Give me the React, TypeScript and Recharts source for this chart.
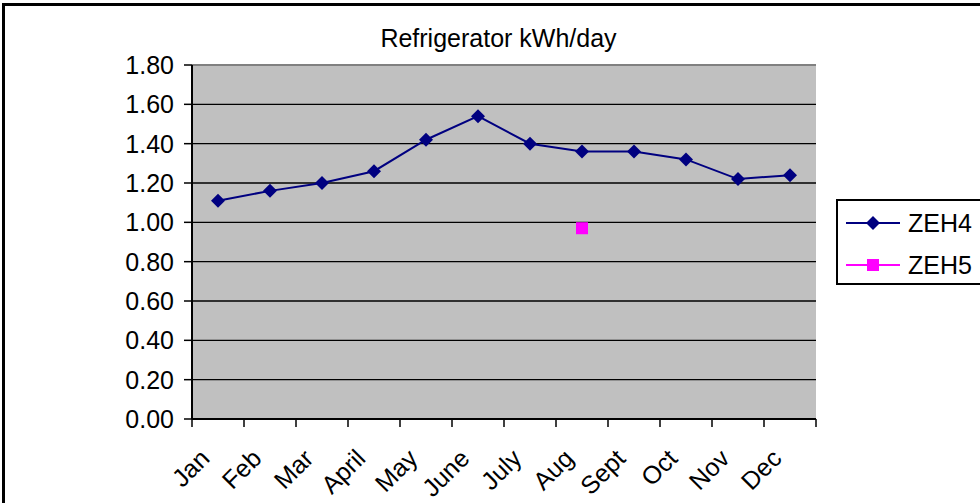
import { LineChart, Line, XAxis, YAxis, CartesianGrid, ReferenceLine } from "recharts"

const months = ["Jan", "Feb", "Mar", "April", "May", "June", "July", "Aug", "Sept", "Oct", "Nov", "Dec"]
const zeh4 = [1.11, 1.16, 1.2, 1.26, 1.42, 1.54, 1.4, 1.36, 1.36, 1.32, 1.22, 1.24]
const zeh5 = [null, null, null, null, null, null, null, 0.97, null, null, null, null]
const yTicks = [0, 0.2, 0.4, 0.6, 0.8, 1.0, 1.2, 1.4, 1.6, 1.8]

const data = months.map((m, i) => ({ month: m, zeh4: zeh4[i], zeh5: zeh5[i] }))

const FONT = "'Liberation Sans', Arial, sans-serif"
const FS = 25
const HALF = 26

const Diamond = (props: any) => {
  const { cx, cy } = props
  if (cx == null || cy == null) return null
  const s = 7
  return <polygon points={`${cx},${cy - s} ${cx + s},${cy} ${cx},${cy + s} ${cx - s},${cy}`} fill="#000080" />
}

const Square = (props: any) => {
  const { cx, cy, value } = props
  if (cx == null || cy == null || value == null) return null
  return <rect x={cx - 6} y={cy - 6} width={12} height={12} fill="#FF00FF" />
}

const MonthTick = (props: any) => {
  const { x, y, payload } = props
  const idx = payload.index ?? props.index
  const tx = x - 7
  const ty = y + 41
  return (
    <g>
      <line x1={x - HALF} y1={y} x2={x - HALF} y2={y + 8} stroke="#000" strokeWidth={1.5} />
      {idx === months.length - 1 && (
        <line x1={x + HALF} y1={y} x2={x + HALF} y2={y + 8} stroke="#000" strokeWidth={1.5} />
      )}
      <text
        x={tx}
        y={ty}
        textAnchor="end"
        fontFamily={FONT}
        fontSize={FS}
        fill="#000"
        transform={`rotate(-45, ${tx}, ${ty})`}
      >
        {payload.value}
      </text>
    </g>
  )
}

const LegendBox = () => (
  <div
    style={{
      position: "absolute",
      left: 836,
      top: 199,
      border: "2px solid #000",
      width: 160,
      height: 82,
      background: "#fff",
      fontFamily: FONT,
      fontSize: FS
    }}
  >
    {[
      { name: "ZEH4", color: "#000080", y: 22, shape: "d" },
      { name: "ZEH5", color: "#FF00FF", y: 64, shape: "s" }
    ].map((it) => (
      <div key={it.name} style={{ position: "absolute", left: 0, top: it.y - 14, height: 28, width: 160 }}>
        <svg width={68} height={28} style={{ position: "absolute", left: 0, top: 0 }}>
          <line x1={8} y1={14} x2={62} y2={14} stroke={it.color} strokeWidth={2} />
          {it.shape === "d" ? (
            <polygon points="35,7 42,14 35,21 28,14" fill={it.color} />
          ) : (
            <rect x={29} y={8} width={12} height={12} fill={it.color} />
          )}
        </svg>
        <span style={{ position: "absolute", left: 70, top: 0, lineHeight: "28px", color: "#000" }}>{it.name}</span>
      </div>
    ))}
  </div>
)

export default function App() {
  return (
    <div style={{ position: "fixed", left: 0, top: 0, width: 980, height: 503, overflow: "hidden", background: "#fff" }}>
      <div style={{ position: "absolute", left: 2, top: 3, width: 1020, height: 540, border: "3px solid #000" }} />
      <div
        style={{
          position: "absolute",
          left: 0,
          top: 26,
          width: 997,
          textAlign: "center",
          fontFamily: FONT,
          fontSize: FS,
          lineHeight: "25px",
          color: "#000"
        }}
      >
        Refrigerator kWh/day
      </div>
      <div style={{ position: "absolute", left: 0, top: 0 }}>
        <LineChart width={980} height={503} data={data} margin={{ top: 65, right: 164, left: 0, bottom: 0 }}>
          <CartesianGrid vertical={false} horizontal={true} stroke="#000" strokeWidth={1.3} fill="#C0C0C0" fillOpacity={1} />
          <XAxis
            dataKey="month"
            height={84}
            padding={{ left: HALF, right: HALF }}
            axisLine={{ stroke: "#000", strokeWidth: 2 }}
            tickLine={false}
            tickSize={0}
            tickMargin={0}
            interval={0}
            tick={<MonthTick />}
          />
          <YAxis
            width={192}
            domain={[0, 1.8]}
            ticks={yTicks}
            interval={0}
            tickFormatter={(v: number) => v.toFixed(2)}
            axisLine={{ stroke: "#000", strokeWidth: 2 }}
            tickLine={{ stroke: "#000", strokeWidth: 1.5 }}
            tickSize={8}
            tickMargin={10}
            tick={{ fill: "#000", fontSize: FS, fontFamily: FONT }}
          />
          <YAxis
            yAxisId="r"
            orientation="right"
            width={0}
            domain={[0, 1.8]}
            tick={false}
            tickLine={false}
            axisLine={{ stroke: "#808080", strokeWidth: 2 }}
          />
          <ReferenceLine y={1.8} stroke="#808080" strokeWidth={2} />
          <Line
            dataKey="zeh4"
            name="ZEH4"
            stroke="#000080"
            strokeWidth={2}
            dot={<Diamond />}
            activeDot={false}
            isAnimationActive={false}
          />
          <Line
            dataKey="zeh5"
            name="ZEH5"
            stroke="#FF00FF"
            strokeWidth={2}
            dot={<Square />}
            activeDot={false}
            connectNulls={false}
            isAnimationActive={false}
          />
        </LineChart>
      </div>
      <LegendBox />
    </div>
  )
}
